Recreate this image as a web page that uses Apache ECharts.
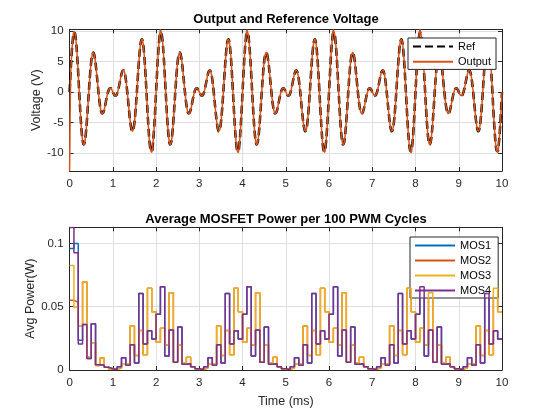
<!DOCTYPE html>
<html>
<head>
<meta charset="utf-8">
<script src="https://cdn.jsdelivr.net/npm/echarts@6.0.0/dist/echarts.min.js"></script>
<style>
html,body{margin:0;padding:0;background:#fff;}
#chart{width:542px;height:420px;}
</style>
</head>
<body>
<div id="chart"></div>
<script>
// ---------------- data ----------------
const voltageSampleMs = 0.025;   // sample spacing of the voltage traces (ms)
const pwmWindowMs = 0.1;         // width of one "100 PWM cycles" window (ms)

const refVoltage = [
0,3.46,6.47,8.66,9.76,9.62,8.29,5.96,2.94,-0.37,-3.54,-6.16,-7.94,-8.66,-8.29,-6.91,-4.76,-2.13,0.60,3.07,5.00,6.16,6.47,5.96,4.76,3.09,1.22,-0.57,-2.06,-3.07,-3.54,-3.46,-2.94,-2.13,-1.22,-0.38,0.24,0.57,0.60,0.37,0,-0.37,-0.60,-0.57,-0.24,0.38,1.22,2.13,2.94,3.46,3.54,3.07,2.06,0.57,-1.22,-3.09,-4.76,-5.96,-6.47,-6.16,-5.00,-3.07,-0.60,2.13,4.76,6.91,8.29,8.66,7.94,6.16,3.54,0.37,-2.94,-5.96,-8.29,-9.62,-9.76,-8.66,-6.47,-3.46,
0,3.46,6.47,8.66,9.76,9.62,8.29,5.96,2.94,-0.37,-3.54,-6.16,-7.94,-8.66,-8.29,-6.91,-4.76,-2.13,0.60,3.07,5.00,6.16,6.47,5.96,4.76,3.09,1.22,-0.57,-2.06,-3.07,-3.54,-3.46,-2.94,-2.13,-1.22,-0.38,0.24,0.57,0.60,0.37,0,-0.37,-0.60,-0.57,-0.24,0.38,1.22,2.13,2.94,3.46,3.54,3.07,2.06,0.57,-1.22,-3.09,-4.76,-5.96,-6.47,-6.16,-5.00,-3.07,-0.60,2.13,4.76,6.91,8.29,8.66,7.94,6.16,3.54,0.37,-2.94,-5.96,-8.29,-9.62,-9.76,-8.66,-6.47,-3.46,
0,3.46,6.47,8.66,9.76,9.62,8.29,5.96,2.94,-0.37,-3.54,-6.16,-7.94,-8.66,-8.29,-6.91,-4.76,-2.13,0.60,3.07,5.00,6.16,6.47,5.96,4.76,3.09,1.22,-0.57,-2.06,-3.07,-3.54,-3.46,-2.94,-2.13,-1.22,-0.38,0.24,0.57,0.60,0.37,0,-0.37,-0.60,-0.57,-0.24,0.38,1.22,2.13,2.94,3.46,3.54,3.07,2.06,0.57,-1.22,-3.09,-4.76,-5.96,-6.47,-6.16,-5.00,-3.07,-0.60,2.13,4.76,6.91,8.29,8.66,7.94,6.16,3.54,0.37,-2.94,-5.96,-8.29,-9.62,-9.76,-8.66,-6.47,-3.46,
0,3.46,6.47,8.66,9.76,9.62,8.29,5.96,2.94,-0.37,-3.54,-6.16,-7.94,-8.66,-8.29,-6.91,-4.76,-2.13,0.60,3.07,5.00,6.16,6.47,5.96,4.76,3.09,1.22,-0.57,-2.06,-3.07,-3.54,-3.46,-2.94,-2.13,-1.22,-0.38,0.24,0.57,0.60,0.37,0,-0.37,-0.60,-0.57,-0.24,0.38,1.22,2.13,2.94,3.46,3.54,3.07,2.06,0.57,-1.22,-3.09,-4.76,-5.96,-6.47,-6.16,-5.00,-3.07,-0.60,2.13,4.76,6.91,8.29,8.66,7.94,6.16,3.54,0.37,-2.94,-5.96,-8.29,-9.62,-9.76,-8.66,-6.47,-3.46,
0,3.46,6.47,8.66,9.76,9.62,8.29,5.96,2.94,-0.37,-3.54,-6.16,-7.94,-8.66,-8.29,-6.91,-4.76,-2.13,0.60,3.07,5.00,6.16,6.47,5.96,4.76,3.09,1.22,-0.57,-2.06,-3.07,-3.54,-3.46,-2.94,-2.13,-1.22,-0.38,0.24,0.57,0.60,0.37,0,-0.37,-0.60,-0.57,-0.24,0.38,1.22,2.13,2.94,3.46,3.54,3.07,2.06,0.57,-1.22,-3.09,-4.76,-5.96,-6.47,-6.16,-5.00,-3.07,-0.60,2.13,4.76,6.91,8.29,8.66,7.94,6.16,3.54,0.37,-2.94,-5.96,-8.29,-9.62,-9.76,-8.66,-6.47,-3.46,
0
];

const outputVoltage = [
-13.0,2.60,6.47,8.66,9.95,9.62,8.29,5.96,2.94,-0.37,-3.54,-6.16,-7.94,-8.66,-8.29,-6.91,-4.76,-2.13,0.60,3.07,5.00,6.16,6.47,5.96,4.76,3.09,1.22,-0.57,-2.06,-3.07,-3.54,-3.46,-2.94,-2.13,-1.22,-0.38,0.24,0.57,0.60,0.37,0,-0.37,-0.60,-0.57,-0.24,0.38,1.22,2.13,2.94,3.46,3.54,3.07,2.06,0.57,-1.22,-3.09,-4.76,-5.96,-6.47,-6.16,-5.00,-3.07,-0.60,2.13,4.76,6.91,8.29,8.66,7.94,6.16,3.54,0.37,-2.94,-5.96,-8.29,-9.62,-9.90,-8.66,-6.47,-3.46,
0,3.46,6.47,8.66,10.20,9.62,8.29,5.96,2.94,-0.37,-3.54,-6.16,-7.94,-8.66,-8.29,-6.91,-4.76,-2.13,0.60,3.07,5.00,6.16,6.47,5.96,4.76,3.09,1.22,-0.57,-2.06,-3.07,-3.54,-3.46,-2.94,-2.13,-1.22,-0.38,0.24,0.57,0.60,0.37,0,-0.37,-0.60,-0.57,-0.24,0.38,1.22,2.13,2.94,3.46,3.54,3.07,2.06,0.57,-1.22,-3.09,-4.76,-5.96,-6.47,-6.16,-5.00,-3.07,-0.60,2.13,4.76,6.91,8.29,8.66,7.94,6.16,3.54,0.37,-2.94,-5.96,-8.29,-9.62,-9.95,-8.66,-6.47,-3.46,
0,3.46,6.47,8.66,10.15,9.62,8.29,5.96,2.94,-0.37,-3.54,-6.16,-7.94,-8.66,-8.29,-6.91,-4.76,-2.13,0.60,3.07,5.00,6.16,6.47,5.96,4.76,3.09,1.22,-0.57,-2.06,-3.07,-3.54,-3.46,-2.94,-2.13,-1.22,-0.38,0.24,0.57,0.60,0.37,0,-0.37,-0.60,-0.57,-0.24,0.38,1.22,2.13,2.94,3.46,3.54,3.07,2.06,0.57,-1.22,-3.09,-4.76,-5.96,-6.47,-6.16,-5.00,-3.07,-0.60,2.13,4.76,6.91,8.29,8.66,7.94,6.16,3.54,0.37,-2.94,-5.96,-8.29,-9.62,-9.90,-8.66,-6.47,-3.46,
0,3.46,6.47,8.66,10.20,9.62,8.29,5.96,2.94,-0.37,-3.54,-6.16,-7.94,-8.66,-8.29,-6.91,-4.76,-2.13,0.60,3.07,5.00,6.16,6.47,5.96,4.76,3.09,1.22,-0.57,-2.06,-3.07,-3.54,-3.46,-2.94,-2.13,-1.22,-0.38,0.24,0.57,0.60,0.37,0,-0.37,-0.60,-0.57,-0.24,0.38,1.22,2.13,2.94,3.46,3.54,3.07,2.06,0.57,-1.22,-3.09,-4.76,-5.96,-6.47,-6.16,-5.00,-3.07,-0.60,2.13,4.76,6.91,8.29,8.66,7.94,6.16,3.54,0.37,-2.94,-5.96,-8.29,-9.62,-9.95,-8.66,-6.47,-3.46,
0,3.46,6.47,8.66,10.25,9.62,8.29,5.96,2.94,-0.37,-3.54,-6.16,-7.94,-8.66,-8.29,-6.91,-4.76,-2.13,0.60,3.07,5.00,6.16,6.47,5.96,4.76,3.09,1.22,-0.57,-2.06,-3.07,-3.54,-3.46,-2.94,-2.13,-1.22,-0.38,0.24,0.57,0.60,0.37,0,-0.37,-0.60,-0.57,-0.24,0.38,1.22,2.13,2.94,3.46,3.54,3.07,2.06,0.57,-1.22,-3.09,-4.76,-5.96,-6.47,-6.16,-5.00,-3.07,-0.60,2.13,4.76,6.91,8.29,8.66,7.94,6.16,3.54,0.37,-2.94,-5.96,-8.29,-9.62,-9.90,-8.66,-6.47,-3.46,
0
];

const mos1Power = [
0.0960,0.1000,0.0234,0.0360,0.0090,0.0366,0.0042,0.0040,0.0022,0.0010,
0.0004,0.0025,0.0097,0.0037,0.0200,0.0055,0.0605,0.0205,0.0310,0.0245,
0.0440,0.0658,0.0110,0.0316,0.0062,0.0340,0.0045,0.0050,0.0026,0.0010,
0.0004,0.0025,0.0097,0.0037,0.0200,0.0055,0.0605,0.0205,0.0310,0.0245,
0.0440,0.0658,0.0110,0.0316,0.0062,0.0340,0.0045,0.0050,0.0026,0.0010,
0.0004,0.0025,0.0097,0.0037,0.0200,0.0055,0.0605,0.0205,0.0310,0.0245,
0.0440,0.0658,0.0110,0.0316,0.0062,0.0340,0.0045,0.0050,0.0026,0.0010,
0.0004,0.0025,0.0097,0.0037,0.0200,0.0055,0.0605,0.0205,0.0310,0.0245,
0.0440,0.0658,0.0110,0.0316,0.0062,0.0340,0.0045,0.0050,0.0026,0.0010,
0.0004,0.0025,0.0097,0.0037,0.0200,0.0055,0.0605,0.0205,0.0310,0.0245
];
const mos2Power = [
0.0550,0.0535,0.0350,0.0695,0.0105,0.0216,0.0035,0.0095,0.0025,0.0008,
0.0005,0.0015,0.0045,0.0050,0.0347,0.0115,0.0312,0.0120,0.0645,0.0460,
0.0220,0.0330,0.0197,0.0610,0.0066,0.0197,0.0058,0.0100,0.0026,0.0008,
0.0005,0.0015,0.0045,0.0050,0.0347,0.0115,0.0312,0.0120,0.0645,0.0460,
0.0220,0.0330,0.0197,0.0610,0.0066,0.0197,0.0058,0.0100,0.0026,0.0008,
0.0005,0.0015,0.0045,0.0050,0.0347,0.0115,0.0312,0.0120,0.0645,0.0460,
0.0220,0.0330,0.0197,0.0610,0.0066,0.0197,0.0058,0.0100,0.0026,0.0008,
0.0005,0.0015,0.0045,0.0050,0.0347,0.0115,0.0312,0.0120,0.0645,0.0460,
0.0220,0.0330,0.0197,0.0610,0.0066,0.0197,0.0058,0.0100,0.0026,0.0008,
0.0005,0.0015,0.0045,0.0050,0.0347,0.0115,0.0312,0.0120,0.0645,0.0460
];
const mos3Power = [
0.0826,0.0495,0.0350,0.0695,0.0105,0.0216,0.0035,0.0095,0.0025,0.0008,
0.0005,0.0015,0.0045,0.0050,0.0347,0.0115,0.0312,0.0120,0.0645,0.0460,
0.0220,0.0330,0.0197,0.0610,0.0066,0.0197,0.0058,0.0100,0.0026,0.0008,
0.0005,0.0015,0.0045,0.0050,0.0347,0.0115,0.0312,0.0120,0.0645,0.0460,
0.0220,0.0330,0.0197,0.0610,0.0066,0.0197,0.0058,0.0100,0.0026,0.0008,
0.0005,0.0015,0.0045,0.0050,0.0347,0.0115,0.0312,0.0120,0.0645,0.0460,
0.0220,0.0330,0.0197,0.0610,0.0066,0.0197,0.0058,0.0100,0.0026,0.0008,
0.0005,0.0015,0.0045,0.0050,0.0347,0.0115,0.0312,0.0120,0.0645,0.0460,
0.0220,0.0330,0.0197,0.0610,0.0066,0.0197,0.0058,0.0100,0.0026,0.0008,
0.0005,0.0015,0.0045,0.0050,0.0347,0.0115,0.0312,0.0120,0.0645,0.0460
];
const mos4Power = [
0.1126,0.0926,0.0205,0.0360,0.0090,0.0366,0.0042,0.0040,0.0022,0.0010,
0.0004,0.0025,0.0097,0.0037,0.0200,0.0055,0.0605,0.0205,0.0310,0.0245,
0.0440,0.0658,0.0110,0.0316,0.0062,0.0340,0.0045,0.0050,0.0026,0.0010,
0.0004,0.0025,0.0097,0.0037,0.0200,0.0055,0.0605,0.0205,0.0310,0.0245,
0.0440,0.0658,0.0110,0.0316,0.0062,0.0340,0.0045,0.0050,0.0026,0.0010,
0.0004,0.0025,0.0097,0.0037,0.0200,0.0055,0.0605,0.0205,0.0310,0.0245,
0.0440,0.0658,0.0110,0.0316,0.0062,0.0340,0.0045,0.0050,0.0026,0.0010,
0.0004,0.0025,0.0097,0.0037,0.0200,0.0055,0.0605,0.0205,0.0310,0.0245,
0.0440,0.0658,0.0110,0.0316,0.0062,0.0340,0.0045,0.0050,0.0026,0.0010,
0.0004,0.0025,0.0097,0.0037,0.0200,0.0055,0.0605,0.0205,0.0310,0.0245
];

const voltageRange = [-13.0, 10.3];
const powerRange = [0, 0.1127];
const timeRange = [0, 10];
const seriesNames = ['Ref', 'Output', 'MOS1', 'MOS2', 'MOS3', 'MOS4'];
const seriesColors = ['#000000', '#D95319', '#0072BD', '#D95319', '#EDB120', '#7E2F8E'];

// ---------------- build ----------------
function samplePairs(vals, dt) {
  return vals.map((v, i) => [Math.round(i * dt * 1000) / 1000, v]);
}
function stairPairs(vals, dt) {
  const p = vals.map((v, i) => [Math.round(i * dt * 1000) / 1000, v]);
  p.push([Math.round(vals.length * dt * 1000) / 1000, vals[vals.length - 1]]);
  return p;
}

const FONT = "'Liberation Sans', Arial, Helvetica, sans-serif";
const AX = '#262626';
const GRIDC = '#DFDFDF';

function xAx(gridIndex, pos, withLabels, name) {
  return {
    type: 'value', gridIndex, position: pos,
    min: timeRange[0], max: timeRange[1], interval: 1,
    name: name || '', nameLocation: 'middle', nameGap: 25, nameMoveOverlap: false,
    nameTextStyle: { color: AX, fontSize: 12.5, fontFamily: FONT },
    axisLine: { show: true, onZero: false, lineStyle: { color: AX, width: 1 } },
    axisTick: { show: true, inside: true, length: 4, lineStyle: { color: AX } },
    axisLabel: { show: withLabels, color: AX, fontSize: 11.5, fontFamily: FONT, margin: 7 },
    splitLine: { show: withLabels, lineStyle: { color: GRIDC, width: 1 } }
  };
}
function yAx(gridIndex, pos, withLabels, range, extra, name, gap) {
  return Object.assign({
    type: 'value', gridIndex, position: pos,
    min: range[0], max: range[1],
    name: name || '', nameLocation: 'middle', nameGap: gap || 24, nameMoveOverlap: false,
    nameTextStyle: { color: AX, fontSize: 12.5, fontFamily: FONT },
    axisLine: { show: true, onZero: false, lineStyle: { color: AX, width: 1 } },
    axisTick: { show: true, inside: true, length: 4, lineStyle: { color: AX } },
    axisLabel: { show: withLabels, color: AX, fontSize: 11.5, fontFamily: FONT, margin: 6, showMaxLabel: false },
    splitLine: { show: withLabels, lineStyle: { color: GRIDC, width: 1 } }
  }, extra);
}

const chart = echarts.init(document.getElementById('chart'), null, { renderer: 'canvas' });
const option = {
  animation: false,
  backgroundColor: '#ffffff',
  textStyle: { fontFamily: FONT },
  title: [
    { text: 'Output and Reference Voltage', left: 286, top: 13, textAlign: 'center', padding: 0,
      textStyle: { fontSize: 13, fontWeight: 'bold', color: '#000', fontFamily: FONT } },
    { text: 'Average MOSFET Power per 100 PWM Cycles', left: 286, top: 213, textAlign: 'center', padding: 0,
      textStyle: { fontSize: 13, fontWeight: 'bold', color: '#000', fontFamily: FONT } }
  ],
  grid: [
    { left: 69.6, right: 40, top: 29.3, height: 141.7, containLabel: false },
    { left: 69.6, right: 40, top: 227.3, height: 142.7, containLabel: false }
  ],
  xAxis: [
    xAx(0, 'bottom', true),
    xAx(0, 'top', false),
    xAx(1, 'bottom', true, 'Time (ms)'),
    xAx(1, 'top', false)
  ],
  yAxis: [
    yAx(0, 'left', true, voltageRange, { splitNumber: 5, axisLabel: { show: true, color: AX, fontSize: 11.5, fontFamily: FONT, margin: 6, showMinLabel: false, showMaxLabel: false } }, 'Voltage (V)', 27),
    yAx(0, 'right', false, voltageRange, { splitNumber: 5 }),
    yAx(1, 'left', true, powerRange, { interval: 0.05 }, 'Avg Power(W)', 33),
    yAx(1, 'right', false, powerRange, { interval: 0.05 })
  ],
  legend: [
    { data: ['Ref', 'Output'], orient: 'vertical', left: 408, top: 38,
      backgroundColor: '#fff', borderColor: AX, borderWidth: 1, borderRadius: 0,
      padding: [3, 5, 2, 4], itemWidth: 40, itemHeight: 14, itemGap: 4,
      itemStyle: { opacity: 0 },
      textStyle: { color: '#000', fontSize: 11, fontFamily: FONT } },
    { data: ['MOS1', 'MOS2', 'MOS3', 'MOS4'], orient: 'vertical', left: 410, top: 237,
      backgroundColor: '#fff', borderColor: AX, borderWidth: 1, borderRadius: 0,
      padding: [3, 7, 2, 4], itemWidth: 40, itemHeight: 13, itemGap: 4,
      itemStyle: { opacity: 0 },
      textStyle: { color: '#000', fontSize: 11, fontFamily: FONT } }
  ],
  series: [
    { name: seriesNames[0], type: 'line', xAxisIndex: 0, yAxisIndex: 0,
      data: samplePairs(refVoltage, voltageSampleMs), symbol: 'none', smooth: 0.4, z: 2,
      itemStyle: { color: seriesColors[0] },
      lineStyle: { color: seriesColors[0], width: 2.5, type: [8, 4] } },
    { name: seriesNames[1], type: 'line', xAxisIndex: 0, yAxisIndex: 0,
      data: samplePairs(outputVoltage, voltageSampleMs), symbol: 'none', smooth: 0.4, z: 3,
      itemStyle: { color: seriesColors[1] },
      lineStyle: { color: seriesColors[1], width: 1.5 } },
    { name: seriesNames[2], type: 'line', xAxisIndex: 2, yAxisIndex: 2, step: 'end',
      data: stairPairs(mos1Power, pwmWindowMs), symbol: 'none', z: 2,
      itemStyle: { color: seriesColors[2] }, lineStyle: { color: seriesColors[2], width: 1.5 } },
    { name: seriesNames[3], type: 'line', xAxisIndex: 2, yAxisIndex: 2, step: 'end',
      data: stairPairs(mos2Power, pwmWindowMs), symbol: 'none', z: 3,
      itemStyle: { color: seriesColors[3] }, lineStyle: { color: seriesColors[3], width: 1.5 } },
    { name: seriesNames[4], type: 'line', xAxisIndex: 2, yAxisIndex: 2, step: 'end',
      data: stairPairs(mos3Power, pwmWindowMs), symbol: 'none', z: 4,
      itemStyle: { color: seriesColors[4] }, lineStyle: { color: seriesColors[4], width: 1.5 } },
    { name: seriesNames[5], type: 'line', xAxisIndex: 2, yAxisIndex: 2, step: 'end',
      data: stairPairs(mos4Power, pwmWindowMs), symbol: 'none', z: 5,
      itemStyle: { color: seriesColors[5] }, lineStyle: { color: seriesColors[5], width: 1.5 } }
  ]
};
chart.setOption(option);
</script>
</body>
</html>
